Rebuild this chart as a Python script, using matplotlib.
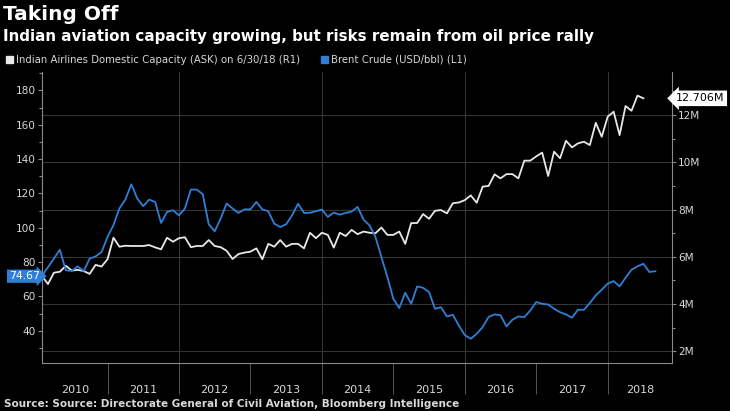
import numpy as np
import matplotlib
matplotlib.use("Agg")
import matplotlib.pyplot as plt
from matplotlib.patches import Patch
from matplotlib.ticker import MultipleLocator, FuncFormatter

# monthly, month-end, starting Jan 2010
brent = [72.2, 77.0, 82.0, 87.2, 75.2, 74.8, 77.5, 74.8, 82.0, 83.3, 85.8, 94.6,
         101.5, 111.2, 116.4, 125.3, 117.0, 112.5, 116.4, 115.0, 102.8, 109.2, 110.2, 107.2,
         111.2, 122.2, 122.2, 119.5, 102.0, 97.9, 105.3, 114.1, 111.2, 108.6, 110.7, 110.7,
         115.0, 110.7, 109.6, 102.4, 100.4, 102.0, 107.2, 114.0, 108.6, 108.7, 109.6, 110.6,
         106.3, 108.8, 107.6, 108.6, 109.4, 112.1, 104.7, 101.4, 94.6, 82.9, 71.3, 58.6,
         53.2, 62.1, 55.7, 65.8, 65.0, 62.5, 52.8, 53.7, 48.3, 49.3, 43.0, 37.5,
         35.3, 38.2, 42.1, 48.0, 49.5, 49.0, 42.5, 46.4, 48.3, 47.9, 51.8, 56.7,
         55.7, 55.3, 52.8, 50.8, 49.5, 47.6, 52.2, 52.2, 56.1, 60.6, 63.9, 67.4,
         68.9, 65.8, 70.9, 75.5, 77.5, 79.0, 74.2, 74.67]

# available seat km, millions
capacity = [5.19, 4.85, 5.33, 5.37, 5.62, 5.42, 5.45, 5.40, 5.28, 5.66, 5.59, 5.90,
            6.81, 6.43, 6.47, 6.46, 6.46, 6.46, 6.50, 6.40, 6.32, 6.81, 6.64, 6.79,
            6.83, 6.41, 6.46, 6.46, 6.71, 6.46, 6.41, 6.26, 5.91, 6.12, 6.18, 6.22,
            6.36, 5.90, 6.55, 6.43, 6.71, 6.43, 6.55, 6.55, 6.36, 7.02, 6.79, 7.02,
            6.93, 6.39, 7.02, 6.88, 7.14, 6.96, 7.07, 7.02, 7.00, 7.24, 6.93, 6.93,
            7.07, 6.55, 7.43, 7.43, 7.81, 7.61, 7.95, 7.98, 7.84, 8.27, 8.30, 8.40,
            8.60, 8.29, 8.97, 9.00, 9.49, 9.32, 9.50, 9.50, 9.32, 10.07, 10.07, 10.25,
            10.41, 9.42, 10.45, 10.17, 10.91, 10.63, 10.80, 10.87, 10.73, 11.67, 11.08, 11.93,
            12.14, 11.15, 12.38, 12.18, 12.82, 12.706]

years = list(range(2010, 2019))
left_ticks = list(range(40, 181, 20))
right_ticks = list(range(2, 13, 2))

x_brent = 2010 + (np.arange(len(brent)) + 1) / 12
x_cap = 2010 + (np.arange(len(capacity)) + 1) / 12

BLUE = "#2f7fd6"
WHITE = "#e8e8e8"
TXT = "#d8d8d8"
xmin, xmax = 2010 + 1 / 12, 2018.9

fig = plt.figure(figsize=(7.3, 4.11), dpi=100, facecolor="black")
ax = fig.add_axes([42 / 730, 48 / 411, 630 / 730, 291 / 411])
ax2 = ax.twinx()
# brent line drawn over the capacity axes and its grid
ax.set_zorder(ax2.get_zorder() + 1)
ax.patch.set_visible(False)
ax2.patch.set_visible(True)
ax2.set_facecolor("black")

ax2.yaxis.grid(True, color="#353535", lw=0.8)
for yr in years:
    if yr % 2 == 0 and yr > 2010:
        ax2.axvline(yr, color="#353535", lw=0.8)

ax2.plot(x_cap, capacity, color=WHITE, lw=1.3)
ax.plot(x_brent, brent, color=BLUE, lw=1.3)

ax.set_xlim(xmin, xmax)
ax.set_ylim(21.2, 190.7)
ax2.set_ylim(1.51, 13.82)

ax.set_yticks(left_ticks)
ax.yaxis.set_minor_locator(MultipleLocator(10))
ax2.set_yticks(right_ticks)
ax2.yaxis.set_minor_locator(MultipleLocator(1))
ax2.yaxis.set_major_formatter(FuncFormatter(lambda v, p: f"{int(v)}M"))

for a in (ax, ax2):
    a.tick_params(axis="y", which="both", colors="#8a8a8a", labelcolor=TXT, labelsize=7.6, width=0.8)
    a.tick_params(axis="y", which="major", length=3, pad=1.5)
    a.tick_params(axis="y", which="minor", length=2)
    for s in a.spines.values():
        s.set_visible(False)
ax.spines["left"].set_visible(True)
ax.spines["bottom"].set_visible(True)
ax2.spines["right"].set_visible(True)
for s in ("left", "bottom"):
    ax.spines[s].set_color("#8a8a8a")
ax2.spines["right"].set_color("#8a8a8a")

# year separators and centred labels
ax.set_xticks(years[1:])
ax.set_xticklabels([])
ax.tick_params(axis="x", which="major", length=22, width=0.7, color="#555555")
centers = [(max(y, xmin) + min(y + 1, xmax)) / 2 for y in years]
ax.set_xticks(centers, minor=True)
ax.set_xticklabels([str(y) for y in years], minor=True)
ax.tick_params(axis="x", which="minor", length=0, pad=16, labelcolor=TXT, labelsize=8)

ax.text(-0.004, brent[-1], f"{brent[-1]:.2f}", transform=ax.get_yaxis_transform(),
        ha="right", va="top", color="white", fontsize=7.8,
        bbox=dict(boxstyle="rarrow,pad=0.15", fc=BLUE, ec="none"))
ax.text(1.006, capacity[-1], f"{capacity[-1]:.3f}M", transform=ax2.get_yaxis_transform(),
        ha="left", va="center", color="black", fontsize=8,
        bbox=dict(boxstyle="larrow,pad=0.25", fc="white", ec="none"))

fig.text(0.004, 1 - 15 / 411, "Taking Off", color="white", fontsize=14.5,
         fontweight="bold", va="center")
fig.text(0.004, 1 - 37 / 411, "Indian aviation capacity growing, but risks remain from oil price rally",
         color="white", fontsize=10.9, fontweight="bold", va="center")

handles = [Patch(color=WHITE), Patch(color=BLUE)]
labels = ["Indian Airlines Domestic Capacity (ASK) on 6/30/18 (R1)", "Brent Crude (USD/bbl) (L1)"]
fig.legend(handles, labels, loc="center left", bbox_to_anchor=(0.0, 1 - 60 / 411), ncol=2,
           frameon=False, fontsize=7.3, labelcolor=TXT, handlelength=0.7, handleheight=0.7,
           handletextpad=0.3, columnspacing=2.0, borderaxespad=0.2)

fig.text(0.005, 1 - 404 / 411,
         "Source: Source: Directorate General of Civil Aviation, Bloomberg Intelligence",
         color=TXT, fontsize=7.5, fontweight="bold", va="center")

fig.savefig("out.png", dpi=100, facecolor="black")
